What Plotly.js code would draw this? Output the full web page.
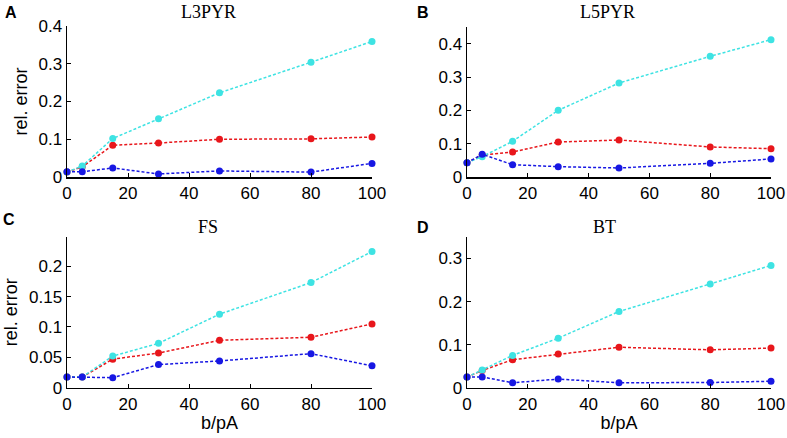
<!DOCTYPE html>
<html>
<head>
<meta charset="utf-8">
<script src="https://cdn.plot.ly/plotly-3.0.1.min.js"></script>
<style>html,body{margin:0;padding:0;background:#fff;}#chart{width:787px;height:438px;}</style>
</head>
<body>
<div id="chart"></div>
<script>
// b values (pA)
const bValues = [0, 5, 15, 30, 50, 80, 100];

// Panel A: L3PYR
const l3pyrCyan = [0.013, 0.029, 0.102, 0.154, 0.223, 0.304, 0.359];
const l3pyrRed  = [0.013, 0.027, 0.084, 0.090, 0.100, 0.101, 0.106];
const l3pyrBlue = [0.014, 0.014, 0.024, 0.008, 0.016, 0.013, 0.036];

// Panel B: L5PYR
const l5pyrCyan = [0.043, 0.061, 0.107, 0.200, 0.282, 0.362, 0.412];
const l5pyrRed  = [0.043, 0.066, 0.075, 0.105, 0.111, 0.090, 0.085];
const l5pyrBlue = [0.043, 0.068, 0.037, 0.031, 0.027, 0.041, 0.054];

// Panel C: FS
const fsCyan = [0.0176, 0.0176, 0.052, 0.073, 0.121, 0.173, 0.224];
const fsRed  = [0.0176, 0.0176, 0.047, 0.057, 0.078, 0.083, 0.105];
const fsBlue = [0.0176, 0.0176, 0.0165, 0.038, 0.044, 0.056, 0.036];

// Panel D: BT
const btCyan = [0.0246, 0.041, 0.075, 0.115, 0.177, 0.241, 0.284];
const btRed  = [0.0246, 0.040, 0.065, 0.078, 0.094, 0.088, 0.092];
const btBlue = [0.0246, 0.025, 0.0115, 0.020, 0.0115, 0.012, 0.015];

const panelTitles = ['L3PYR', 'L5PYR', 'FS', 'BT'];
const panelLetters = ['A', 'B', 'C', 'D'];
const xTitle = 'b/pA';
const yTitle = 'rel. error';

const COLORS = {cyan: '#3ee3e3', red: '#e8161b', blue: '#1717e3'};

const panels = [
  {cyan: l3pyrCyan, red: l3pyrRed, blue: l3pyrBlue},
  {cyan: l5pyrCyan, red: l5pyrRed, blue: l5pyrBlue},
  {cyan: fsCyan, red: fsRed, blue: fsBlue},
  {cyan: btCyan, red: btRed, blue: btBlue}
];

const W = 787, H = 438;
const px = v => v / W;
const py = v => 1 - v / H;

// geometry (pixels): [xLeft, xRight, yBottom(px), yTop(px)], y range, dtick
const geo = [
  {x0: 67, x1: 372, yb: 177, yt: 26, range: [0, 0.4], dtick: 0.1},
  {x0: 467, x1: 771, yb: 177, yt: 27, range: [0, 0.45], dtick: 0.1},
  {x0: 67, x1: 372, yb: 387.7, yt: 237, range: [0, 0.248], dtick: 0.05},
  {x0: 467, x1: 771, yb: 387.7, yt: 237, range: [0, 0.35], dtick: 0.1}
];

const traces = [];
const layout = {
  width: W, height: H,
  margin: {l: 0, r: 0, t: 0, b: 0},
  paper_bgcolor: '#fff', plot_bgcolor: '#fff',
  showlegend: false,
  font: {family: 'Liberation Sans, Arial, sans-serif', size: 17, color: '#000'},
  annotations: []
};

const lineStyle = c => ({color: c, width: 1.5, dash: '3px,2px'});

panels.forEach((p, i) => {
  const n = i + 1;
  const xa = n === 1 ? 'x' : 'x' + n;
  const ya = n === 1 ? 'y' : 'y' + n;
  ['red', 'cyan', 'blue'].forEach(k => {
    traces.push({
      x: bValues, y: p[k], xaxis: xa, yaxis: ya,
      type: 'scatter', mode: 'lines+markers',
      line: lineStyle(COLORS[k]),
      marker: {color: COLORS[k], size: 7},
      cliponaxis: false, hoverinfo: 'skip'
    });
  });
  const g = geo[i];
  const axKeyX = n === 1 ? 'xaxis' : 'xaxis' + n;
  const axKeyY = n === 1 ? 'yaxis' : 'yaxis' + n;
  const bottomRow = i >= 2;
  const leftCol = i % 2 === 0;
  layout[axKeyX] = {
    domain: [px(g.x0), px(g.x1)],
    anchor: ya,
    range: [0, 100], tick0: 0, dtick: 20,
    showgrid: false, zeroline: false,
    showline: true, linecolor: '#000', linewidth: 1.5,
    ticks: 'inside', ticklen: 4, tickcolor: '#000', tickwidth: 1,
    tickfont: {size: 17},
    title: bottomRow ? {text: xTitle, font: {size: 18}, standoff: 4} : {text: ''}
  };
  layout[axKeyY] = {
    domain: [py(g.yb), py(g.yt)],
    anchor: xa,
    range: g.range, tick0: 0, dtick: g.dtick,
    showgrid: false, zeroline: false,
    showline: true, linecolor: '#000', linewidth: 1.5,
    ticks: 'inside', ticklen: 4, tickcolor: '#000', tickwidth: 1,
    tickfont: {size: 17},
    title: leftCol ? {text: yTitle, font: {size: 18}, standoff: 6} : {text: ''}
  };
});

// panel titles
const titlePos = [[209, 12], [607, 12], [208, 227], [604, 227]];
const letterPos = [[11, 12], [423, 12], [9, 219], [423, 227]];
panelTitles.forEach((t, i) => {
  layout.annotations.push({
    text: t, xref: 'paper', yref: 'paper',
    x: px(titlePos[i][0]), y: py(titlePos[i][1]),
    xanchor: 'center', yanchor: 'middle', showarrow: false,
    font: {family: 'Liberation Serif, Times New Roman, serif', size: 18, color: '#000'}
  });
  layout.annotations.push({
    text: '<b>' + panelLetters[i] + '</b>', xref: 'paper', yref: 'paper',
    x: px(letterPos[i][0]), y: py(letterPos[i][1]),
    xanchor: 'center', yanchor: 'middle', showarrow: false,
    font: {family: 'Liberation Sans, Arial, sans-serif', size: 16, color: '#000'}
  });
});

Plotly.newPlot('chart', traces, layout, {staticPlot: true, displayModeBar: false});
</script>
</body>
</html>
